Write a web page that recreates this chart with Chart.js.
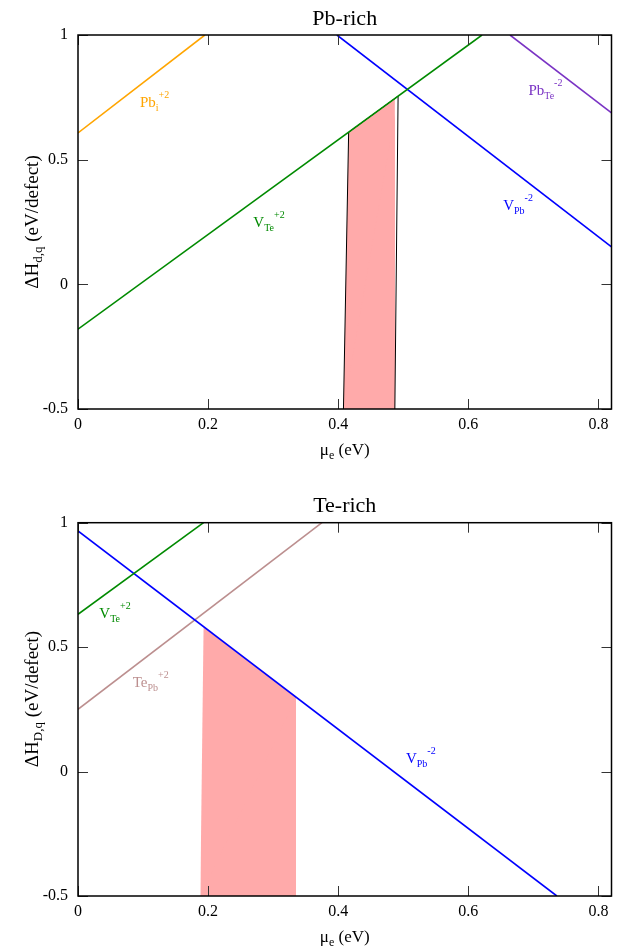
<!DOCTYPE html>
<html>
<head>
<meta charset="utf-8">
<script src="https://cdn.jsdelivr.net/npm/chart.js@4/dist/chart.umd.min.js"></script>
<style>
  html, body { margin: 0; padding: 0; background: #fff; }
  body { width: 622px; height: 948px; position: relative; overflow: hidden; }
  canvas { position: absolute; left: 0; }
  #c1 { top: 0; }
  #c2 { top: 474px; }
</style>
</head>
<body>
<canvas id="c1" width="622" height="474"></canvas>
<canvas id="c2" width="622" height="474"></canvas>
<script>
// ---------- data ----------
const xTicks = [0, 0.2, 0.4, 0.6, 0.8];
const xTickLabels = ["0", "0.2", "0.4", "0.6", "0.8"];
const yTicks = [-0.5, 0, 0.5, 1];
const yTickLabels = ["-0.5", "0", "0.5", "1"];

// Pb-rich (top)
const pbRichPbI   = [{x: 0, y: 0.607}, {x: 0.195, y: 1.0}];
const pbRichVTe   = [{x: 0, y: -0.18}, {x: 0.621, y: 1.0}];
const pbRichVPb   = [{x: 0.398, y: 1.0}, {x: 0.82, y: 0.15}];
const pbRichPbTe  = [{x: 0.664, y: 1.0}, {x: 0.82, y: 0.688}];
const pbRichRegion = [{x: 0.408, y: -0.5}, {x: 0.416, y: 0.61}, {x: 0.492, y: 0.755}, {x: 0.487, y: -0.5}];

// Te-rich (bottom)
const teRichVTe   = [{x: 0, y: 0.632}, {x: 0.193, y: 1.0}];
const teRichVPb   = [{x: 0, y: 0.967}, {x: 0.736, y: -0.5}];
const teRichTePb  = [{x: 0, y: 0.25}, {x: 0.375, y: 1.0}];
const teRichRegion = [{x: 0.188, y: -0.5}, {x: 0.193, y: 0.58}, {x: 0.336, y: 0.30}, {x: 0.335, y: -0.5}];

// ---------- styling ----------
const FONT = "'Liberation Serif', 'Times New Roman', serif";
const C_ORANGE = "#FFA500";
const C_GREEN = "#008a00";
const C_BLUE = "#0000FF";
const C_PURPLE = "#7a33c4";
const C_ROSY = "#bc8f8f";
const C_FILL = "rgb(255,170,170)";

function lineDs(data, color) {
  return { data, showLine: true, borderColor: color, borderWidth: 1.6, pointRadius: 0, fill: false, tension: 0 };
}
function regionDs(data, border, bw) {
  return { data, showLine: true, borderColor: border, borderWidth: bw, backgroundColor: C_FILL,
           pointRadius: 0, fill: { value: -0.5 }, tension: 0 };
}

function drawRich(ctx, x, y, parts, color) {
  ctx.fillStyle = color;
  ctx.textBaseline = "alphabetic";
  ctx.textAlign = "left";
  let cx = x;
  for (const p of parts) {
    ctx.font = p.size + "px " + FONT;
    ctx.fillText(p.t, cx, y + (p.dy || 0));
    cx += ctx.measureText(p.t).width;
  }
}
function richWidth(ctx, parts) {
  let w = 0;
  for (const p of parts) { ctx.font = p.size + "px " + FONT; w += ctx.measureText(p.t).width; }
  return w;
}
function defectLabel(base, sub, sup) {
  return [{t: base, size: 15}, {t: sub, size: 10, dy: 4}, {t: sup, size: 10, dy: -9}];
}

const decorPlugin = {
  id: "decor",
  afterDraw(chart) {
    const cfg = chart.options.plugins.decor;
    const ctx = chart.ctx;
    const a = chart.chartArea;
    const xs = chart.scales.x, ys = chart.scales.y;
    ctx.save();
    // inner ticks
    ctx.strokeStyle = "#333";
    ctx.lineWidth = 1;
    ctx.beginPath();
    for (const v of xTicks) {
      const px = Math.round(xs.getPixelForValue(v)) + 0.5;
      ctx.moveTo(px, a.bottom); ctx.lineTo(px, a.bottom - 10);
      ctx.moveTo(px, a.top); ctx.lineTo(px, a.top + 10);
    }
    for (const v of yTicks) {
      const py = Math.round(ys.getPixelForValue(v)) + 0.5;
      ctx.moveTo(a.left, py); ctx.lineTo(a.left + 10, py);
      ctx.moveTo(a.right, py); ctx.lineTo(a.right - 10, py);
    }
    ctx.stroke();
    // frame
    ctx.strokeStyle = "#000";
    ctx.lineWidth = 1.5;
    ctx.strokeRect(a.left, a.top, a.right - a.left, a.bottom - a.top);
    // title
    ctx.fillStyle = "#000";
    ctx.font = "22px " + FONT;
    ctx.textAlign = "center";
    ctx.textBaseline = "alphabetic";
    ctx.fillText(cfg.title, (a.left + a.right) / 2, cfg.titleY);
    // x axis title
    const xt = [{t: "\u03BC", size: 17}, {t: "e", size: 12, dy: 4}, {t: " (eV)", size: 17}];
    const xw = richWidth(ctx, xt);
    drawRich(ctx, (a.left + a.right) / 2 - xw / 2, cfg.xTitleY, xt, "#000");
    // y axis title
    const yt = [{t: "\u0394H", size: 19}, {t: cfg.ySub, size: 13, dy: 4}, {t: " (eV/defect)", size: 19}];
    const yw = richWidth(ctx, yt);
    ctx.save();
    ctx.translate(cfg.yTitleX, cfg.yTitleCY);
    ctx.rotate(-Math.PI / 2);
    drawRich(ctx, -yw / 2, 0, yt, "#000");
    ctx.restore();
    // defect labels
    for (const L of cfg.labels) {
      drawRich(ctx, xs.getPixelForValue(L.x), ys.getPixelForValue(L.y), defectLabel(L.base, L.sub, L.sup), L.color);
    }
    ctx.restore();
  }
};

function makeChart(id, datasets, padTop, xHeight, decor) {
  return new Chart(document.getElementById(id), {
    type: "scatter",
    data: { datasets },
    options: {
      responsive: false,
      animation: false,
      devicePixelRatio: 1,
      layout: { padding: { top: padTop, right: 10.5, left: 0, bottom: 0 } },
      plugins: { legend: { display: false }, tooltip: { enabled: false }, decor },
      scales: {
        x: {
          type: "linear", min: 0, max: 0.82,
          afterBuildTicks(s) { s.ticks = xTicks.map(v => ({ value: v })); },
          afterFit(s) { s.height = xHeight; },
          ticks: {
            callback: (v, i) => xTickLabels[i],
            font: { family: FONT, size: 16 }, color: "#000", padding: 6,
            maxRotation: 0, autoSkip: false
          },
          grid: { display: false, drawTicks: false },
          border: { display: false }
        },
        y: {
          type: "linear", min: -0.5, max: 1,
          afterBuildTicks(s) { s.ticks = yTicks.map(v => ({ value: v })); },
          afterFit(s) { s.width = 78; },
          ticks: {
            callback: (v, i) => yTickLabels[i],
            font: { family: FONT, size: 16 }, color: "#000", padding: 10,
            autoSkip: false
          },
          grid: { display: false, drawTicks: false },
          border: { display: false }
        }
      }
    },
    plugins: [decorPlugin]
  });
}

makeChart("c1", [
  lineDs(pbRichPbI, C_ORANGE),
  lineDs(pbRichVTe, C_GREEN),
  lineDs(pbRichVPb, C_BLUE),
  lineDs(pbRichPbTe, C_PURPLE),
  regionDs(pbRichRegion, "#000", 1)
], 35, 65, {
  title: "Pb-rich", titleY: 25, xTitleY: 455, ySub: "d,q", yTitleX: 38, yTitleCY: 222,
  labels: [
    {x: 0.0953, y: 0.711, base: "Pb", sub: "i", sup: "+2", color: C_ORANGE},
    {x: 0.2695, y: 0.229, base: "V", sub: "Te", sup: "+2", color: C_GREEN},
    {x: 0.6923, y: 0.759, base: "Pb", sub: "Te", sup: "-2", color: C_PURPLE},
    {x: 0.6535, y: 0.297, base: "V", sub: "Pb", sup: "-2", color: C_BLUE}
  ]
});

makeChart("c2", [
  lineDs(teRichVTe, C_GREEN),
  lineDs(teRichVPb, C_BLUE),
  lineDs(teRichTePb, C_ROSY),
  regionDs(teRichRegion, C_FILL, 0)
], 48.7, 52, {
  title: "Te-rich", titleY: 37.7, xTitleY: 468, ySub: "D,q", yTitleX: 38, yTitleCY: 225,
  labels: [
    {x: 0.0328, y: 0.617, base: "V", sub: "Te", sup: "+2", color: C_GREEN},
    {x: 0.084, y: 0.34, base: "Te", sub: "Pb", sup: "+2", color: C_ROSY},
    {x: 0.504, y: 0.035, base: "V", sub: "Pb", sup: "-2", color: C_BLUE}
  ]
});
</script>
</body>
</html>
